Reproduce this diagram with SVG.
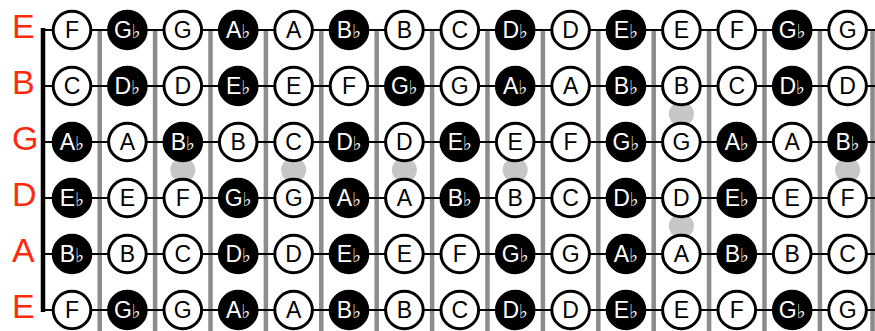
<svg xmlns="http://www.w3.org/2000/svg" width="875" height="331" viewBox="0 0 875 331">
<style>
.bg{fill:#fff}
.fret{stroke:#8c8c8c;stroke-width:4.5}
.inlay{fill:#c6c6c6}
.str{stroke:#000;stroke-width:2}
.nut{fill:none;stroke:#000;stroke-width:4.5}
.lbl{font-family:"Liberation Sans",Arial,sans-serif;font-size:34px;fill:#ff2a0d}
.w use{fill:#fff;stroke:#000;stroke-width:3}
.b use{fill:#000;stroke:#000;stroke-width:3}
.w text,.b text{font-family:"Liberation Sans",Arial,sans-serif;font-size:23px;text-anchor:middle}
.w text{fill:#000}
.b text{fill:#fff}
.fl{font-family:"DejaVu Sans",sans-serif;font-size:19px}
</style>
<defs>
<circle id="c" r="18.8"/>
</defs>
<rect class="bg" x="0" y="0" width="875" height="331"/>
<g id="frets">
<line class="fret" x1="99.7" y1="30" x2="99.7" y2="331"/>
<line class="fret" x1="155.1" y1="30" x2="155.1" y2="331"/>
<line class="fret" x1="210.5" y1="30" x2="210.5" y2="331"/>
<line class="fret" x1="265.9" y1="30" x2="265.9" y2="331"/>
<line class="fret" x1="321.3" y1="30" x2="321.3" y2="331"/>
<line class="fret" x1="376.7" y1="30" x2="376.7" y2="331"/>
<line class="fret" x1="432.1" y1="30" x2="432.1" y2="331"/>
<line class="fret" x1="487.5" y1="30" x2="487.5" y2="331"/>
<line class="fret" x1="542.9" y1="30" x2="542.9" y2="331"/>
<line class="fret" x1="598.3" y1="30" x2="598.3" y2="331"/>
<line class="fret" x1="653.7" y1="30" x2="653.7" y2="331"/>
<line class="fret" x1="709.1" y1="30" x2="709.1" y2="331"/>
<line class="fret" x1="764.5" y1="30" x2="764.5" y2="331"/>
<line class="fret" x1="819.9" y1="30" x2="819.9" y2="331"/>
<line class="fret" x1="872.5" y1="30" x2="872.5" y2="331"/>
</g>
<g id="inlays">
<circle class="inlay" cx="182.8" cy="170" r="12.5"/>
<circle class="inlay" cx="293.6" cy="170" r="12.5"/>
<circle class="inlay" cx="404.4" cy="170" r="12.5"/>
<circle class="inlay" cx="515.2" cy="170" r="12.5"/>
<circle class="inlay" cx="681.4" cy="114" r="12.5"/>
<circle class="inlay" cx="681.4" cy="226" r="12.5"/>
<circle class="inlay" cx="847.6" cy="170" r="12.5"/>
</g>
<g id="connectors">
<line class="str" x1="41" y1="30" x2="875" y2="30"/>
<line class="str" x1="41" y1="86" x2="875" y2="86"/>
<line class="str" x1="41" y1="142" x2="875" y2="142"/>
<line class="str" x1="41" y1="198" x2="875" y2="198"/>
<line class="str" x1="41" y1="254" x2="875" y2="254"/>
<line class="str" x1="41" y1="310" x2="875" y2="310"/>
</g>
<g id="nut">
<line class="nut" x1="43" y1="28" x2="43" y2="312"/>
</g>
<g id="labels">
<text class="lbl" x="12" y="38">E</text>
<text class="lbl" x="12" y="94">B</text>
<text class="lbl" x="12" y="150">G</text>
<text class="lbl" x="12" y="206">D</text>
<text class="lbl" x="12" y="262">A</text>
<text class="lbl" x="12" y="318">E</text>
</g>
<g id="string-e1">
<g id="e1-0" class="w"><use href="#c" x="72" y="30"/><text x="72" y="38">F</text></g>
<g id="e1-1" class="b"><use href="#c" x="127.4" y="30"/><text x="127.4" y="38">G<tspan class="fl">♭</tspan></text></g>
<g id="e1-2" class="w"><use href="#c" x="182.8" y="30"/><text x="182.8" y="38">G</text></g>
<g id="e1-3" class="b"><use href="#c" x="238.2" y="30"/><text x="238.2" y="38">A<tspan class="fl">♭</tspan></text></g>
<g id="e1-4" class="w"><use href="#c" x="293.6" y="30"/><text x="293.6" y="38">A</text></g>
<g id="e1-5" class="b"><use href="#c" x="349" y="30"/><text x="349" y="38">B<tspan class="fl">♭</tspan></text></g>
<g id="e1-6" class="w"><use href="#c" x="404.4" y="30"/><text x="404.4" y="38">B</text></g>
<g id="e1-7" class="w"><use href="#c" x="459.8" y="30"/><text x="459.8" y="38">C</text></g>
<g id="e1-8" class="b"><use href="#c" x="515.2" y="30"/><text x="515.2" y="38">D<tspan class="fl">♭</tspan></text></g>
<g id="e1-9" class="w"><use href="#c" x="570.6" y="30"/><text x="570.6" y="38">D</text></g>
<g id="e1-10" class="b"><use href="#c" x="626" y="30"/><text x="626" y="38">E<tspan class="fl">♭</tspan></text></g>
<g id="e1-11" class="w"><use href="#c" x="681.4" y="30"/><text x="681.4" y="38">E</text></g>
<g id="e1-12" class="w"><use href="#c" x="736.8" y="30"/><text x="736.8" y="38">F</text></g>
<g id="e1-13" class="b"><use href="#c" x="792.2" y="30"/><text x="792.2" y="38">G<tspan class="fl">♭</tspan></text></g>
<g id="e1-14" class="w"><use href="#c" x="847.6" y="30"/><text x="847.6" y="38">G</text></g>
</g>
<g id="string-b">
<g id="b-0" class="w"><use href="#c" x="72" y="86"/><text x="72" y="94">C</text></g>
<g id="b-1" class="b"><use href="#c" x="127.4" y="86"/><text x="127.4" y="94">D<tspan class="fl">♭</tspan></text></g>
<g id="b-2" class="w"><use href="#c" x="182.8" y="86"/><text x="182.8" y="94">D</text></g>
<g id="b-3" class="b"><use href="#c" x="238.2" y="86"/><text x="238.2" y="94">E<tspan class="fl">♭</tspan></text></g>
<g id="b-4" class="w"><use href="#c" x="293.6" y="86"/><text x="293.6" y="94">E</text></g>
<g id="b-5" class="w"><use href="#c" x="349" y="86"/><text x="349" y="94">F</text></g>
<g id="b-6" class="b"><use href="#c" x="404.4" y="86"/><text x="404.4" y="94">G<tspan class="fl">♭</tspan></text></g>
<g id="b-7" class="w"><use href="#c" x="459.8" y="86"/><text x="459.8" y="94">G</text></g>
<g id="b-8" class="b"><use href="#c" x="515.2" y="86"/><text x="515.2" y="94">A<tspan class="fl">♭</tspan></text></g>
<g id="b-9" class="w"><use href="#c" x="570.6" y="86"/><text x="570.6" y="94">A</text></g>
<g id="b-10" class="b"><use href="#c" x="626" y="86"/><text x="626" y="94">B<tspan class="fl">♭</tspan></text></g>
<g id="b-11" class="w"><use href="#c" x="681.4" y="86"/><text x="681.4" y="94">B</text></g>
<g id="b-12" class="w"><use href="#c" x="736.8" y="86"/><text x="736.8" y="94">C</text></g>
<g id="b-13" class="b"><use href="#c" x="792.2" y="86"/><text x="792.2" y="94">D<tspan class="fl">♭</tspan></text></g>
<g id="b-14" class="w"><use href="#c" x="847.6" y="86"/><text x="847.6" y="94">D</text></g>
</g>
<g id="string-g">
<g id="g-0" class="b"><use href="#c" x="72" y="142"/><text x="72" y="150">A<tspan class="fl">♭</tspan></text></g>
<g id="g-1" class="w"><use href="#c" x="127.4" y="142"/><text x="127.4" y="150">A</text></g>
<g id="g-2" class="b"><use href="#c" x="182.8" y="142"/><text x="182.8" y="150">B<tspan class="fl">♭</tspan></text></g>
<g id="g-3" class="w"><use href="#c" x="238.2" y="142"/><text x="238.2" y="150">B</text></g>
<g id="g-4" class="w"><use href="#c" x="293.6" y="142"/><text x="293.6" y="150">C</text></g>
<g id="g-5" class="b"><use href="#c" x="349" y="142"/><text x="349" y="150">D<tspan class="fl">♭</tspan></text></g>
<g id="g-6" class="w"><use href="#c" x="404.4" y="142"/><text x="404.4" y="150">D</text></g>
<g id="g-7" class="b"><use href="#c" x="459.8" y="142"/><text x="459.8" y="150">E<tspan class="fl">♭</tspan></text></g>
<g id="g-8" class="w"><use href="#c" x="515.2" y="142"/><text x="515.2" y="150">E</text></g>
<g id="g-9" class="w"><use href="#c" x="570.6" y="142"/><text x="570.6" y="150">F</text></g>
<g id="g-10" class="b"><use href="#c" x="626" y="142"/><text x="626" y="150">G<tspan class="fl">♭</tspan></text></g>
<g id="g-11" class="w"><use href="#c" x="681.4" y="142"/><text x="681.4" y="150">G</text></g>
<g id="g-12" class="b"><use href="#c" x="736.8" y="142"/><text x="736.8" y="150">A<tspan class="fl">♭</tspan></text></g>
<g id="g-13" class="w"><use href="#c" x="792.2" y="142"/><text x="792.2" y="150">A</text></g>
<g id="g-14" class="b"><use href="#c" x="847.6" y="142"/><text x="847.6" y="150">B<tspan class="fl">♭</tspan></text></g>
</g>
<g id="string-d">
<g id="d-0" class="b"><use href="#c" x="72" y="198"/><text x="72" y="206">E<tspan class="fl">♭</tspan></text></g>
<g id="d-1" class="w"><use href="#c" x="127.4" y="198"/><text x="127.4" y="206">E</text></g>
<g id="d-2" class="w"><use href="#c" x="182.8" y="198"/><text x="182.8" y="206">F</text></g>
<g id="d-3" class="b"><use href="#c" x="238.2" y="198"/><text x="238.2" y="206">G<tspan class="fl">♭</tspan></text></g>
<g id="d-4" class="w"><use href="#c" x="293.6" y="198"/><text x="293.6" y="206">G</text></g>
<g id="d-5" class="b"><use href="#c" x="349" y="198"/><text x="349" y="206">A<tspan class="fl">♭</tspan></text></g>
<g id="d-6" class="w"><use href="#c" x="404.4" y="198"/><text x="404.4" y="206">A</text></g>
<g id="d-7" class="b"><use href="#c" x="459.8" y="198"/><text x="459.8" y="206">B<tspan class="fl">♭</tspan></text></g>
<g id="d-8" class="w"><use href="#c" x="515.2" y="198"/><text x="515.2" y="206">B</text></g>
<g id="d-9" class="w"><use href="#c" x="570.6" y="198"/><text x="570.6" y="206">C</text></g>
<g id="d-10" class="b"><use href="#c" x="626" y="198"/><text x="626" y="206">D<tspan class="fl">♭</tspan></text></g>
<g id="d-11" class="w"><use href="#c" x="681.4" y="198"/><text x="681.4" y="206">D</text></g>
<g id="d-12" class="b"><use href="#c" x="736.8" y="198"/><text x="736.8" y="206">E<tspan class="fl">♭</tspan></text></g>
<g id="d-13" class="w"><use href="#c" x="792.2" y="198"/><text x="792.2" y="206">E</text></g>
<g id="d-14" class="w"><use href="#c" x="847.6" y="198"/><text x="847.6" y="206">F</text></g>
</g>
<g id="string-a">
<g id="a-0" class="b"><use href="#c" x="72" y="254"/><text x="72" y="262">B<tspan class="fl">♭</tspan></text></g>
<g id="a-1" class="w"><use href="#c" x="127.4" y="254"/><text x="127.4" y="262">B</text></g>
<g id="a-2" class="w"><use href="#c" x="182.8" y="254"/><text x="182.8" y="262">C</text></g>
<g id="a-3" class="b"><use href="#c" x="238.2" y="254"/><text x="238.2" y="262">D<tspan class="fl">♭</tspan></text></g>
<g id="a-4" class="w"><use href="#c" x="293.6" y="254"/><text x="293.6" y="262">D</text></g>
<g id="a-5" class="b"><use href="#c" x="349" y="254"/><text x="349" y="262">E<tspan class="fl">♭</tspan></text></g>
<g id="a-6" class="w"><use href="#c" x="404.4" y="254"/><text x="404.4" y="262">E</text></g>
<g id="a-7" class="w"><use href="#c" x="459.8" y="254"/><text x="459.8" y="262">F</text></g>
<g id="a-8" class="b"><use href="#c" x="515.2" y="254"/><text x="515.2" y="262">G<tspan class="fl">♭</tspan></text></g>
<g id="a-9" class="w"><use href="#c" x="570.6" y="254"/><text x="570.6" y="262">G</text></g>
<g id="a-10" class="b"><use href="#c" x="626" y="254"/><text x="626" y="262">A<tspan class="fl">♭</tspan></text></g>
<g id="a-11" class="w"><use href="#c" x="681.4" y="254"/><text x="681.4" y="262">A</text></g>
<g id="a-12" class="b"><use href="#c" x="736.8" y="254"/><text x="736.8" y="262">B<tspan class="fl">♭</tspan></text></g>
<g id="a-13" class="w"><use href="#c" x="792.2" y="254"/><text x="792.2" y="262">B</text></g>
<g id="a-14" class="w"><use href="#c" x="847.6" y="254"/><text x="847.6" y="262">C</text></g>
</g>
<g id="string-e6">
<g id="e6-0" class="w"><use href="#c" x="72" y="310"/><text x="72" y="318">F</text></g>
<g id="e6-1" class="b"><use href="#c" x="127.4" y="310"/><text x="127.4" y="318">G<tspan class="fl">♭</tspan></text></g>
<g id="e6-2" class="w"><use href="#c" x="182.8" y="310"/><text x="182.8" y="318">G</text></g>
<g id="e6-3" class="b"><use href="#c" x="238.2" y="310"/><text x="238.2" y="318">A<tspan class="fl">♭</tspan></text></g>
<g id="e6-4" class="w"><use href="#c" x="293.6" y="310"/><text x="293.6" y="318">A</text></g>
<g id="e6-5" class="b"><use href="#c" x="349" y="310"/><text x="349" y="318">B<tspan class="fl">♭</tspan></text></g>
<g id="e6-6" class="w"><use href="#c" x="404.4" y="310"/><text x="404.4" y="318">B</text></g>
<g id="e6-7" class="w"><use href="#c" x="459.8" y="310"/><text x="459.8" y="318">C</text></g>
<g id="e6-8" class="b"><use href="#c" x="515.2" y="310"/><text x="515.2" y="318">D<tspan class="fl">♭</tspan></text></g>
<g id="e6-9" class="w"><use href="#c" x="570.6" y="310"/><text x="570.6" y="318">D</text></g>
<g id="e6-10" class="b"><use href="#c" x="626" y="310"/><text x="626" y="318">E<tspan class="fl">♭</tspan></text></g>
<g id="e6-11" class="w"><use href="#c" x="681.4" y="310"/><text x="681.4" y="318">E</text></g>
<g id="e6-12" class="w"><use href="#c" x="736.8" y="310"/><text x="736.8" y="318">F</text></g>
<g id="e6-13" class="b"><use href="#c" x="792.2" y="310"/><text x="792.2" y="318">G<tspan class="fl">♭</tspan></text></g>
<g id="e6-14" class="w"><use href="#c" x="847.6" y="310"/><text x="847.6" y="318">G</text></g>
</g>
</svg>
